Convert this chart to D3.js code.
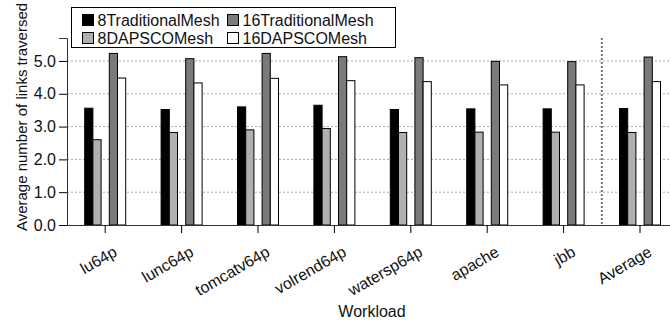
<!DOCTYPE html>
<meta charset="utf-8">
<html>
<head>
<script type="text/javascript" src="https://d3js.org/d3.v7.js"></script>
</head>
<body style="margin:0">
<div id="plotArea"></div>
<style>
  body { background: white; }
  text { font-family: "Liberation Sans", Arial, sans-serif; fill: #111; }
</style>
<script>
  // data
  const workloads = ['lu64p','lunc64p','tomcatv64p','volrend64p','watersp64p','apache','jbb','Average'];
  const trad8   = [3.56, 3.52, 3.60, 3.65, 3.52, 3.54, 3.54, 3.55];
  const dapsco8 = [2.60, 2.82, 2.90, 2.94, 2.82, 2.83, 2.83, 2.82];
  const trad16  = [5.23, 5.07, 5.23, 5.13, 5.10, 4.99, 4.98, 5.12];
  const dapsco16= [4.48, 4.33, 4.47, 4.40, 4.37, 4.27, 4.27, 4.37];
  const seriesNames = ['8TraditionalMesh','8DAPSCOMesh','16TraditionalMesh','16DAPSCOMesh'];
  const seriesColors = ['#000000','#b0b0b0','#7a7a7a','#ffffff'];
  const slots = ['8TraditionalMesh','8DAPSCOMesh','gap','16TraditionalMesh','16DAPSCOMesh'];
  const yTicks = [0,1,2,3,4,5];

  const W = 670, H = 325;
  const margin = {top: 38, left: 67, bottom: 100};
  const baseY = 225;
  const step = 76.4;

  const svg = d3.select('#plotArea').append('svg')
    .attr('width', W).attr('height', H);

  const x0 = d3.scaleBand().domain(workloads)
    .range([margin.left, margin.left + step*workloads.length]).padding(0);
  const x1 = d3.scaleBand().domain(slots)
    .range([step/2 - 20.5, step/2 + 20.5]).padding(0);
  const y = d3.scaleLinear().domain([0, 5.7]).range([baseY, margin.top]);

  // grid lines
  svg.append('g').selectAll('line').data(yTicks.filter(d => d > 0)).enter()
    .append('line')
    .attr('x1', margin.left).attr('x2', W)
    .attr('y1', d => y(d)).attr('y2', d => y(d))
    .attr('stroke', '#aaa').attr('stroke-width', 1)
    .attr('stroke-dasharray', '2,2');

  // separator before Average
  const sepX = x0('Average');
  svg.append('line')
    .attr('x1', sepX).attr('x2', sepX)
    .attr('y1', y(5.7)).attr('y2', baseY)
    .attr('stroke', '#777').attr('stroke-width', 2)
    .attr('stroke-dasharray', '2,2');

  // bars
  const table = workloads.map((w, i) => ({
    w: w,
    vals: [trad8[i], dapsco8[i], trad16[i], dapsco16[i]]
  }));
  const groups = svg.append('g').selectAll('g').data(table).enter()
    .append('g').attr('transform', d => `translate(${x0(d.w)},0)`);
  groups.selectAll('rect')
    .data(d => d.vals.map((v, k) => ({name: seriesNames[k], v: v, k: k})))
    .enter().append('rect')
    .attr('x', d => x1(d.name))
    .attr('width', x1.bandwidth())
    .attr('y', d => y(d.v))
    .attr('height', d => baseY - y(d.v))
    .attr('fill', d => seriesColors[d.k])
    .attr('stroke', '#000').attr('stroke-width', 1);

  // y axis
  const yAxis = svg.append('g').attr('transform', `translate(${margin.left},0)`)
    .call(d3.axisLeft(y).tickValues(yTicks).tickFormat(d3.format('.1f')).tickSizeOuter(0).tickSize(8).tickPadding(3));
  yAxis.select('.domain').attr('stroke', '#333');
  yAxis.selectAll('text').style('font-size', '16px').attr('fill', '#111');

  // x axis (ticks only, labels drawn separately so they can be rotated)
  const xAxis = svg.append('g').attr('transform', `translate(0,${baseY})`)
    .call(d3.axisBottom(x0).tickSize(8).tickSizeOuter(0).tickFormat(''));
  xAxis.select('.domain').attr('d', `M${margin.left},0.5H${W}`).attr('stroke', '#333');

  svg.append('g').selectAll('text').data(workloads).enter()
    .append('text')
    .attr('text-anchor', 'end')
    .style('font-size', '16px')
    .attr('transform', d => `translate(${x0(d) + x0.bandwidth()/2 + 13},${baseY + 30}) rotate(-30)`)
    .text(d => d);

  // axis titles
  svg.append('text')
    .attr('x', 372).attr('y', 317)
    .attr('text-anchor', 'middle')
    .style('font-size', '16px')
    .text('Workload');
  svg.append('text')
    .attr('transform', 'translate(27,117) rotate(-90)')
    .attr('text-anchor', 'middle')
    .style('font-size', '15px')
    .text('Average number of links traversed');

  // legend
  const legend = svg.append('g');
  legend.append('rect')
    .attr('x', 71.5).attr('y', 7.5).attr('width', 324).attr('height', 40)
    .attr('fill', 'white').attr('stroke', '#000');
  const legendOrder = ['8TraditionalMesh','16TraditionalMesh','8DAPSCOMesh','16DAPSCOMesh'];
  const colX = [82.5, 227.5], rowY = [14.5, 32.5];
  legendOrder.forEach(function(name, i) {
    const cx = colX[i % 2], cy = rowY[Math.floor(i / 2)];
    legend.append('rect')
      .attr('x', cx).attr('y', cy).attr('width', 11).attr('height', 11)
      .attr('fill', seriesColors[seriesNames.indexOf(name)])
      .attr('stroke', '#000');
    legend.append('text')
      .attr('x', cx + 15).attr('y', cy + 11.5)
      .style('font-size', '16px')
      .text(name);
  });
</script>
</body>
</html>
